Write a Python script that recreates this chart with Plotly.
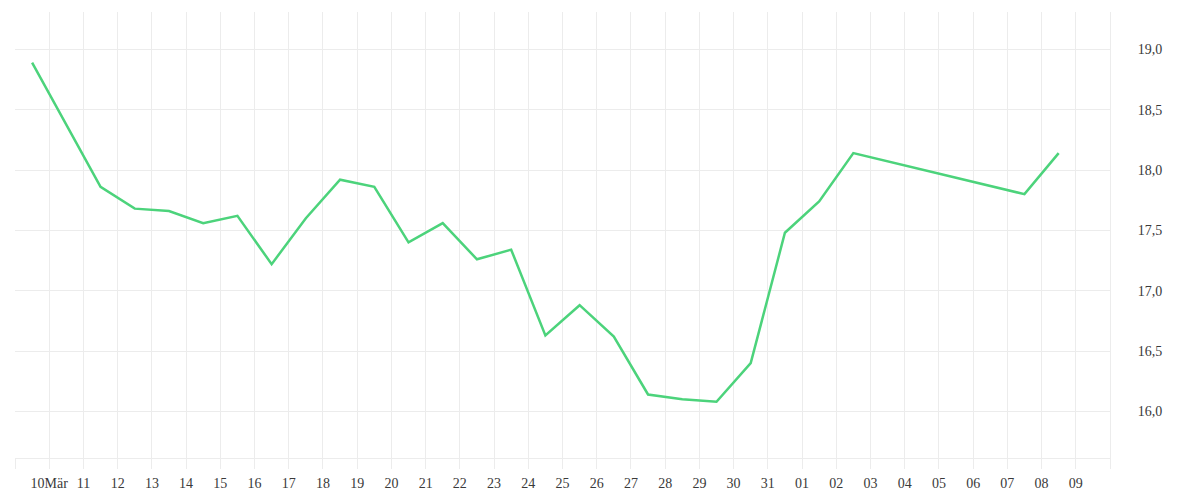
import pandas as pd
import plotly.graph_objs as go

# Daily values, points sit at midday
dates = [
    "2021-03-09 12:00", "2021-03-11 12:00", "2021-03-12 12:00", "2021-03-13 12:00",
    "2021-03-14 12:00", "2021-03-15 12:00", "2021-03-16 12:00", "2021-03-17 12:00",
    "2021-03-18 12:00", "2021-03-19 12:00", "2021-03-20 12:00", "2021-03-21 12:00",
    "2021-03-22 12:00", "2021-03-23 12:00", "2021-03-24 12:00", "2021-03-25 12:00",
    "2021-03-26 12:00", "2021-03-27 12:00", "2021-03-28 12:00", "2021-03-29 12:00",
    "2021-03-30 12:00", "2021-03-31 12:00", "2021-04-01 12:00", "2021-04-02 12:00",
    "2021-04-07 12:00", "2021-04-08 12:00",
]
values = [
    18.89, 17.86, 17.68, 17.66,
    17.56, 17.62, 17.22, 17.60,
    17.92, 17.86, 17.40, 17.56,
    17.26, 17.34, 16.63, 16.88,
    16.62, 16.14, 16.10, 16.08,
    16.40, 17.48, 17.74, 18.14,
    17.80, 18.14,
]

# day ticks; labels for the two edge days stay empty
tick_days = pd.date_range("2021-03-09", "2021-04-10", freq="D")
tick_labels = []
for d in tick_days:
    if d == tick_days[0] or d == tick_days[-1]:
        tick_labels.append("")
    elif d.day == 10 and d.month == 3:
        tick_labels.append("10Mär")
    else:
        tick_labels.append(d.strftime("%d"))

grid = "#ececec"

fig = go.Figure()
fig.add_trace(go.Scatter(
    x=pd.to_datetime(dates),
    y=values,
    mode="lines",
    line=dict(color="#4cd37b", width=2.5),
    hoverinfo="x+y",
))

# page body adds 8px, so margins are trimmed to land the plot where the reference has it
fig.update_layout(
    width=1200, height=500,
    margin=dict(l=7, r=98, t=4, b=50),
    paper_bgcolor="white",
    plot_bgcolor="white",
    showlegend=False,
    separators=", ",
    font=dict(family="Liberation Serif", size=14, color="#3a3a3a"),
)

fig.update_xaxes(
    type="date",
    range=["2021-03-09", "2021-04-10"],
    tickmode="array",
    tickvals=tick_days,
    ticktext=tick_labels,
    showgrid=True, gridcolor=grid, gridwidth=1,
    ticks="outside", ticklen=10, tickcolor=grid,
    ticklabelstandoff=2,
    showline=True, linecolor=grid,
    zeroline=False,
)

fig.update_yaxes(
    side="right",
    range=[15.614, 19.309],
    tickvals=[16.0, 16.5, 17.0, 17.5, 18.0, 18.5, 19.0],
    tickformat=".1f",
    showgrid=True, gridcolor=grid, gridwidth=1,
    showline=True, linecolor=grid,
    ticks="", ticklabelstandoff=24,
    zeroline=False,
)

fig.write_html("out.html")
